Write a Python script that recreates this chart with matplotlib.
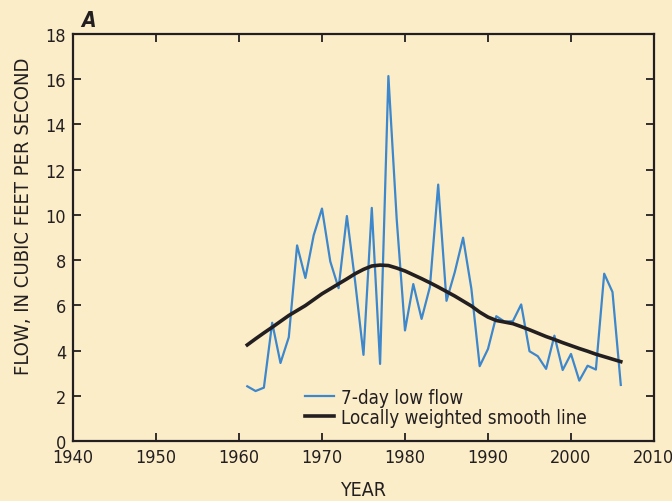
import matplotlib
matplotlib.use('Agg')
import matplotlib.pyplot as plt

# anos del registro
years = list(range(1961, 2007))
# caudal minimo de 7 dias, pies cubicos por segundo
low_flow = [2.42, 2.21, 2.36, 5.23, 3.45, 4.59, 8.65, 7.21, 9.10, 10.28,
            7.94, 6.76, 9.95, 7.03, 3.81, 10.31, 3.41, 16.14, 9.82, 4.89,
            6.94, 5.40, 6.81, 11.34, 6.20, 7.47, 8.99, 6.73, 3.31, 4.07,
            5.52, 5.28, 5.30, 6.04, 3.97, 3.75, 3.19, 4.66, 3.14, 3.85,
            2.67, 3.33, 3.16, 7.40, 6.59, 2.48]
# linea suavizada con pesos locales
smooth = [4.25, 4.52, 4.78, 5.03, 5.29, 5.55, 5.77, 5.99, 6.25, 6.51,
          6.73, 6.95, 7.17, 7.40, 7.59, 7.74, 7.78, 7.76, 7.65, 7.52,
          7.35, 7.18, 7.00, 6.81, 6.61, 6.41, 6.19, 5.97, 5.70, 5.48,
          5.33, 5.26, 5.19, 5.06, 4.92, 4.77, 4.62, 4.49, 4.35, 4.22,
          4.09, 3.97, 3.84, 3.73, 3.62, 3.51]

bg = '#fcedc9'
ink = '#231f20'
plt.rcParams['font.family'] = ['DejaVu Sans']
plt.rcParams['font.stretch'] = 'condensed'

fig = plt.figure(figsize=(6.72, 5.02), dpi=100, facecolor=bg)
ax = fig.add_axes([0.1086, 0.1195, 0.8646, 0.8108], facecolor=bg)

ax.plot(years, low_flow, color='#3d87cc', lw=1.6, label='7-day low flow')
ax.plot(years, smooth, color=ink, lw=2.6, label='Locally weighted smooth line')

ax.set_xlim(1940, 2010)
ax.set_ylim(0, 18)
ax.set_xticks(range(1940, 2011, 10))
ax.set_yticks(range(0, 19, 2))
ax.tick_params(direction='in', length=6, width=1.3, colors=ink,
               labelsize=13, top=True, right=True, pad=5)
for s in ax.spines.values():
    s.set_linewidth(1.6)
    s.set_color(ink)

ax.set_xlabel('YEAR', fontsize=14, color=ink, labelpad=10)
ax.set_ylabel('FLOW, IN CUBIC FEET PER SECOND', fontsize=14.5, color=ink)
ax.yaxis.set_label_coords(-0.068, 0.555)
ax.text(0.014, 1.01, 'A', transform=ax.transAxes, fontsize=15,
        fontweight='bold', fontstyle='italic', color=ink, va='bottom')

ax.legend(loc='lower left', bbox_to_anchor=(0.40, 0.035), frameon=False,
          fontsize=13.5, handlelength=1.5, handletextpad=0.4, labelspacing=0.05,
          borderpad=0, borderaxespad=0, labelcolor=ink)

fig.savefig('out.png', dpi=100, facecolor=bg)
